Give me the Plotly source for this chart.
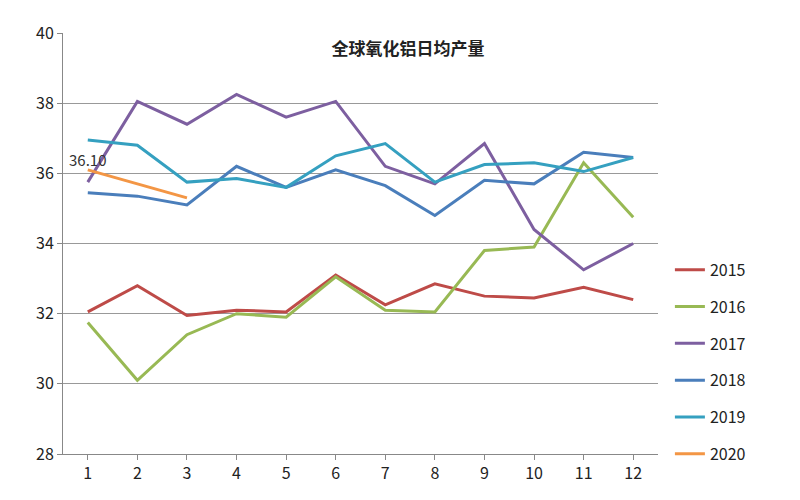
import plotly.graph_objects as go

months = list(range(1, 13))
s2015 = [32.05, 32.8, 31.95, 32.1, 32.05, 33.1, 32.25, 32.85, 32.5, 32.45, 32.75, 32.4]
s2016 = [31.75, 30.1, 31.4, 32.0, 31.9, 33.05, 32.1, 32.05, 33.8, 33.9, 36.3, 34.75]
s2017 = [35.75, 38.05, 37.4, 38.25, 37.6, 38.05, 36.2, 35.7, 36.85, 34.4, 33.25, 34.0]
s2018 = [35.45, 35.35, 35.1, 36.2, 35.6, 36.1, 35.65, 34.8, 35.8, 35.7, 36.6, 36.45]
s2019 = [36.95, 36.8, 35.75, 35.85, 35.6, 36.5, 36.85, 35.75, 36.25, 36.3, 36.05, 36.45]
s2020 = [36.10, 35.7, 35.3]

series = [("2015", s2015, "#be4b48"), ("2016", s2016, "#98b954"),
          ("2017", s2017, "#7d5fa0"), ("2018", s2018, "#4a7ebb"),
          ("2019", s2019, "#35a0c0"), ("2020", s2020, "#f39645")]

fig = go.Figure()
for name, vals, col in series:
    fig.add_trace(go.Scatter(x=months[:len(vals)], y=vals, mode="lines", name=name,
                             legendgroup=name, line=dict(color=col, width=3)))
fig.add_trace(go.Scatter(x=[months[0]], y=[s2020[0]], mode="text", text=["36.10"],
                         textposition="top center", showlegend=False,
                         textfont=dict(size=15, color="#333")))

fig.update_layout(
    width=800, height=500, paper_bgcolor="white", plot_bgcolor="white",
    margin=dict(l=55, r=150, t=18, b=54),
    font=dict(family="Noto Sans CJK SC", size=16, color="#222"),
    title=dict(text="<b>全球氧化铝日均产量</b>", x=0.5, xanchor="center", y=0.93, font=dict(size=17)),
    legend=dict(x=1.02, y=-0.04, xanchor="left", yanchor="bottom", tracegroupgap=13,
                font=dict(size=16)),
    xaxis=dict(range=[0.5, 12.5], tickvals=months, showline=True, linecolor="#888",
               showgrid=False, ticks="outside", tickcolor="#888"),
    yaxis=dict(range=[28, 40], dtick=2, showline=True, linecolor="#888",
               gridcolor="#999", ticks="outside", tickcolor="#888"),
)
fig.write_html("out.html")
